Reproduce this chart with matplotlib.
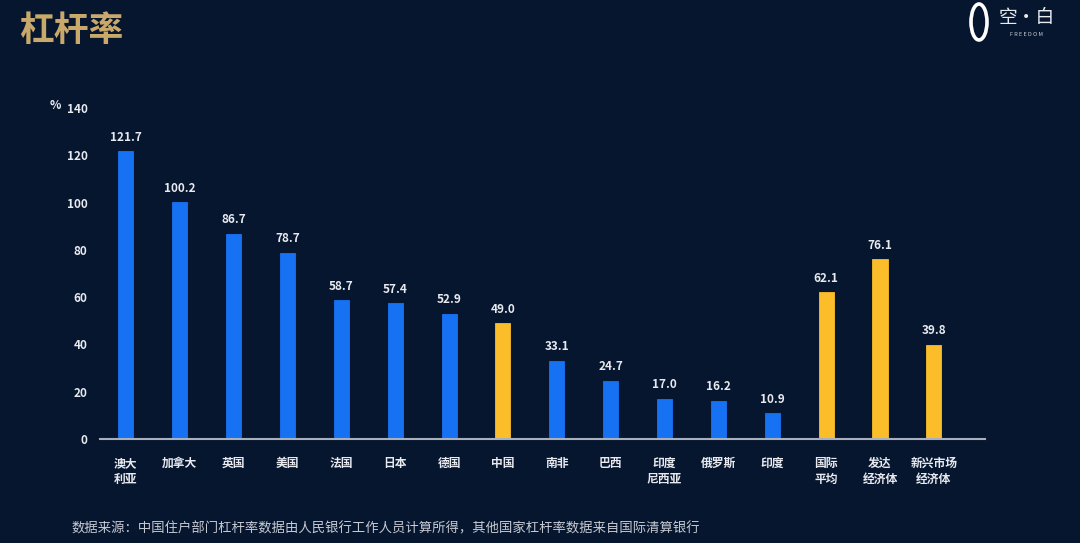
import matplotlib
matplotlib.use("Agg")
import matplotlib.pyplot as plt
from matplotlib.patches import Ellipse

plt.rcParams['font.family'] = ['Noto Sans CJK SC', 'DejaVu Sans']

categories = ["澳大\n利亚", "加拿大", "英国", "美国", "法国", "日本", "德国", "中国",
              "南非", "巴西", "印度\n尼西亚", "俄罗斯", "印度", "国际\n平均", "发达\n经济体", "新兴市场\n经济体"]
values = [121.7, 100.2, 86.7, 78.7, 58.7, 57.4, 52.9, 49.0, 33.1, 24.7, 17.0, 16.2, 10.9, 62.1, 76.1, 39.8]
highlight = [False]*7 + [True] + [False]*5 + [True, True, True]
yticks = [0, 20, 40, 60, 80, 100, 120, 140]

BG = "#06162f"
BLUE = "#1672f3"
YELLOW = "#fbbd2a"
TXT = "#e8eaef"

fig = plt.figure(figsize=(10.8, 5.43), dpi=100, facecolor=BG)
ax = fig.add_axes([100/1080, 1-439/543, 885/1080, (439-108)/543], facecolor=BG)

x = list(range(len(categories)))
colors = [YELLOW if h else BLUE for h in highlight]
ax.bar(x, values, width=0.28, color=colors, edgecolor=colors, linewidth=0.6, zorder=2)

for xi, v in zip(x, values):
    ax.text(xi, v + 3.2, f"{v:.1f}", ha="center", va="bottom", color=TXT,
            fontsize=8.5, fontweight="bold")

ax.set_xlim(-0.48, 15.95)
ax.set_ylim(0, 140)
ax.set_yticks(yticks)
ax.set_yticklabels([str(t) for t in yticks], color=TXT, fontsize=8.5, fontweight="bold")
ax.set_xticks(x)
ax.set_xticklabels(categories, color=TXT, fontsize=8.5, fontweight="bold", linespacing=1.3, va="top")
ax.tick_params(axis="both", length=0)
ax.tick_params(axis="x", pad=13)
ax.tick_params(axis="y", pad=9)
for s in ["top", "right", "left"]:
    ax.spines[s].set_visible(False)
ax.spines["bottom"].set_color("#a9b0bd")
ax.spines["bottom"].set_linewidth(1.5)
ax.spines["bottom"].set_zorder(3)

# % unit label
fig.text(55/1080, 1-106/543, "%", color=TXT, fontsize=8.5, fontweight="bold", ha="center", va="center")

# Title
fig.text(19/1080, 1-30/543, "杠杆率", color="#c9a86b", fontsize=25, fontweight="bold", ha="left", va="center")

# Footnote
fig.text(72/1080, 1-528/543, "数据来源：中国住户部门杠杆率数据由人民银行工作人员计算所得，其他国家杠杆率数据来自国际清算银行",
         color="#c6cad3", fontsize=9.6, ha="left", va="center")

# Logo
logo_ax = fig.add_axes([0, 0, 1, 1], facecolor="none")
logo_ax.set_xlim(0, 1080)
logo_ax.set_ylim(543, 0)
logo_ax.axis("off")
logo_ax.add_patch(Ellipse((979, 22), 16, 36, fill=False, edgecolor="white", linewidth=2.6))
logo_ax.text(1027, 17, "空·白", color="#e8eaef", fontsize=13.5, ha="center", va="center")
logo_ax.text(1027, 35, "F R E E D O M", color="#c8ccd4", fontsize=4, ha="center", va="center")

fig.savefig("out.png", dpi=100, facecolor=BG)
